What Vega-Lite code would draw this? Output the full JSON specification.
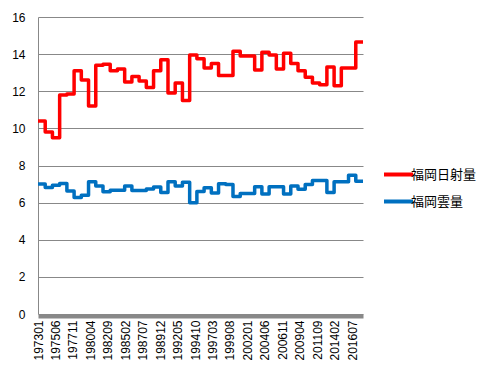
{
  "$schema": "https://vega.github.io/schema/vega-lite/v6.json",
  "width": 325,
  "height": 297,
  "autosize": "none",
  "padding": {"left": 38, "top": 17, "right": 134, "bottom": 62},
  "background": "white",
  "config": {"view": {"stroke": null}, "font": "Liberation Sans"},
  "data": {"values": [
    {"date": "1973-01-01", "series": "福岡日射量", "value": 10.4},
    {"date": "1974-01-01", "series": "福岡日射量", "value": 9.8},
    {"date": "1975-01-01", "series": "福岡日射量", "value": 9.5},
    {"date": "1976-01-01", "series": "福岡日射量", "value": 11.8},
    {"date": "1977-01-01", "series": "福岡日射量", "value": 11.85},
    {"date": "1978-01-01", "series": "福岡日射量", "value": 13.1},
    {"date": "1979-01-01", "series": "福岡日射量", "value": 12.6},
    {"date": "1980-01-01", "series": "福岡日射量", "value": 11.2},
    {"date": "1981-01-01", "series": "福岡日射量", "value": 13.4},
    {"date": "1982-01-01", "series": "福岡日射量", "value": 13.45},
    {"date": "1983-01-01", "series": "福岡日射量", "value": 13.1},
    {"date": "1984-01-01", "series": "福岡日射量", "value": 13.2},
    {"date": "1985-01-01", "series": "福岡日射量", "value": 12.5},
    {"date": "1986-01-01", "series": "福岡日射量", "value": 12.8},
    {"date": "1987-01-01", "series": "福岡日射量", "value": 12.55},
    {"date": "1988-01-01", "series": "福岡日射量", "value": 12.2},
    {"date": "1989-01-01", "series": "福岡日射量", "value": 13.1},
    {"date": "1990-01-01", "series": "福岡日射量", "value": 13.7},
    {"date": "1991-01-01", "series": "福岡日射量", "value": 11.9},
    {"date": "1992-01-01", "series": "福岡日射量", "value": 12.45},
    {"date": "1993-01-01", "series": "福岡日射量", "value": 11.5},
    {"date": "1994-01-01", "series": "福岡日射量", "value": 13.95},
    {"date": "1995-01-01", "series": "福岡日射量", "value": 13.75},
    {"date": "1996-01-01", "series": "福岡日射量", "value": 13.25},
    {"date": "1997-01-01", "series": "福岡日射量", "value": 13.5},
    {"date": "1998-01-01", "series": "福岡日射量", "value": 12.85},
    {"date": "1999-01-01", "series": "福岡日射量", "value": 12.85},
    {"date": "2000-01-01", "series": "福岡日射量", "value": 14.15},
    {"date": "2001-01-01", "series": "福岡日射量", "value": 13.9},
    {"date": "2002-01-01", "series": "福岡日射量", "value": 13.9},
    {"date": "2003-01-01", "series": "福岡日射量", "value": 13.15},
    {"date": "2004-01-01", "series": "福岡日射量", "value": 14.1},
    {"date": "2005-01-01", "series": "福岡日射量", "value": 13.95},
    {"date": "2006-01-01", "series": "福岡日射量", "value": 13.2},
    {"date": "2007-01-01", "series": "福岡日射量", "value": 14.05},
    {"date": "2008-01-01", "series": "福岡日射量", "value": 13.5},
    {"date": "2009-01-01", "series": "福岡日射量", "value": 13.1},
    {"date": "2010-01-01", "series": "福岡日射量", "value": 12.75},
    {"date": "2011-01-01", "series": "福岡日射量", "value": 12.45},
    {"date": "2012-01-01", "series": "福岡日射量", "value": 12.35},
    {"date": "2013-01-01", "series": "福岡日射量", "value": 13.3},
    {"date": "2014-01-01", "series": "福岡日射量", "value": 12.3},
    {"date": "2015-01-01", "series": "福岡日射量", "value": 13.25},
    {"date": "2016-01-01", "series": "福岡日射量", "value": 13.25},
    {"date": "2017-01-01", "series": "福岡日射量", "value": 14.65},
    {"date": "2018-01-01", "series": "福岡日射量", "value": 14.65},
    {"date": "1973-01-01", "series": "福岡雲量", "value": 7.0},
    {"date": "1974-01-01", "series": "福岡雲量", "value": 6.82},
    {"date": "1975-01-01", "series": "福岡雲量", "value": 6.94},
    {"date": "1976-01-01", "series": "福岡雲量", "value": 7.03},
    {"date": "1977-01-01", "series": "福岡雲量", "value": 6.63},
    {"date": "1978-01-01", "series": "福岡雲量", "value": 6.27},
    {"date": "1979-01-01", "series": "福岡雲量", "value": 6.4},
    {"date": "1980-01-01", "series": "福岡雲量", "value": 7.12},
    {"date": "1981-01-01", "series": "福岡雲量", "value": 6.9},
    {"date": "1982-01-01", "series": "福岡雲量", "value": 6.58},
    {"date": "1983-01-01", "series": "福岡雲量", "value": 6.67},
    {"date": "1984-01-01", "series": "福岡雲量", "value": 6.67},
    {"date": "1985-01-01", "series": "福岡雲量", "value": 6.9},
    {"date": "1986-01-01", "series": "福岡雲量", "value": 6.65},
    {"date": "1987-01-01", "series": "福岡雲量", "value": 6.65},
    {"date": "1988-01-01", "series": "福岡雲量", "value": 6.74},
    {"date": "1989-01-01", "series": "福岡雲量", "value": 6.84},
    {"date": "1990-01-01", "series": "福岡雲量", "value": 6.54},
    {"date": "1991-01-01", "series": "福岡雲量", "value": 7.12},
    {"date": "1992-01-01", "series": "福岡雲量", "value": 6.9},
    {"date": "1993-01-01", "series": "福岡雲量", "value": 7.1},
    {"date": "1994-01-01", "series": "福岡雲量", "value": 6.0},
    {"date": "1995-01-01", "series": "福岡雲量", "value": 6.6},
    {"date": "1996-01-01", "series": "福岡雲量", "value": 6.8},
    {"date": "1997-01-01", "series": "福岡雲量", "value": 6.52},
    {"date": "1998-01-01", "series": "福岡雲量", "value": 7.02},
    {"date": "1999-01-01", "series": "福岡雲量", "value": 6.98},
    {"date": "2000-01-01", "series": "福岡雲量", "value": 6.33},
    {"date": "2001-01-01", "series": "福岡雲量", "value": 6.49},
    {"date": "2002-01-01", "series": "福岡雲量", "value": 6.49},
    {"date": "2003-01-01", "series": "福岡雲量", "value": 6.86},
    {"date": "2004-01-01", "series": "福岡雲量", "value": 6.47},
    {"date": "2005-01-01", "series": "福岡雲量", "value": 6.86},
    {"date": "2006-01-01", "series": "福岡雲量", "value": 6.86},
    {"date": "2007-01-01", "series": "福岡雲量", "value": 6.47},
    {"date": "2008-01-01", "series": "福岡雲量", "value": 6.9},
    {"date": "2009-01-01", "series": "福岡雲量", "value": 6.72},
    {"date": "2010-01-01", "series": "福岡雲量", "value": 6.97},
    {"date": "2011-01-01", "series": "福岡雲量", "value": 7.19},
    {"date": "2012-01-01", "series": "福岡雲量", "value": 7.19},
    {"date": "2013-01-01", "series": "福岡雲量", "value": 6.54},
    {"date": "2014-01-01", "series": "福岡雲量", "value": 7.12},
    {"date": "2015-01-01", "series": "福岡雲量", "value": 7.12},
    {"date": "2016-01-01", "series": "福岡雲量", "value": 7.48},
    {"date": "2017-01-01", "series": "福岡雲量", "value": 7.15},
    {"date": "2018-01-01", "series": "福岡雲量", "value": 7.15}
  ]},
  "mark": {"type": "line", "interpolate": "step-after", "strokeWidth": 3.5, "strokeJoin": "round"},
  "encoding": {
    "x": {
      "field": "date", "type": "temporal",
      "scale": {"type": "utc", "nice": false, "domain": [
        {"year": 1973, "month": 1, "date": 1, "utc": true},
        {"year": 2018, "month": 1, "date": 1, "utc": true}
      ]},
      "axis": {
        "title": null,
        "values": [
          {"year": 1973, "month": 1, "date": 1, "utc": true},
          {"year": 1975, "month": 6, "date": 1, "utc": true},
          {"year": 1977, "month": 11, "date": 1, "utc": true},
          {"year": 1980, "month": 4, "date": 1, "utc": true},
          {"year": 1982, "month": 9, "date": 1, "utc": true},
          {"year": 1985, "month": 2, "date": 1, "utc": true},
          {"year": 1987, "month": 7, "date": 1, "utc": true},
          {"year": 1989, "month": 12, "date": 1, "utc": true},
          {"year": 1992, "month": 5, "date": 1, "utc": true},
          {"year": 1994, "month": 10, "date": 1, "utc": true},
          {"year": 1997, "month": 3, "date": 1, "utc": true},
          {"year": 1999, "month": 8, "date": 1, "utc": true},
          {"year": 2002, "month": 1, "date": 1, "utc": true},
          {"year": 2004, "month": 6, "date": 1, "utc": true},
          {"year": 2006, "month": 11, "date": 1, "utc": true},
          {"year": 2009, "month": 4, "date": 1, "utc": true},
          {"year": 2011, "month": 9, "date": 1, "utc": true},
          {"year": 2014, "month": 2, "date": 1, "utc": true},
          {"year": 2016, "month": 7, "date": 1, "utc": true}
        ],
        "format": "%Y%m",
        "labelAngle": -90,
        "labelAlign": "right",
        "labelBaseline": "middle",
        "labelFontSize": 12,
        "labelColor": "black",
        "labelPadding": 4,
        "labelOverlap": false,
        "labelFlush": false,
        "ticks": false,
        "grid": false,
        "domainColor": "#888888",
        "domainWidth": 4,
        "offset": 2
      }
    },
    "y": {
      "field": "value", "type": "quantitative",
      "scale": {"domain": [0, 16], "nice": false},
      "axis": {
        "title": null,
        "values": [0, 2, 4, 6, 8, 10, 12, 14, 16],
        "labelFontSize": 12,
        "labelColor": "black",
        "labelPadding": 13,
        "ticks": false,
        "grid": true,
        "gridColor": "#888888",
        "gridWidth": 1,
        "domainColor": "#888888"
      }
    },
    "color": {
      "field": "series", "type": "nominal",
      "scale": {"domain": ["福岡日射量", "福岡雲量"], "range": ["#FF0000", "#0070C0"]},
      "legend": {
        "title": null,
        "orient": "none",
        "legendX": 344,
        "legendY": 141,
        "symbolType": "stroke",
        "symbolSize": 841,
        "symbolStrokeWidth": 4,
        "labelFontSize": 13,
        "labelFont": "Noto Sans CJK JP",
        "labelColor": "black",
        "labelOffset": -4,
        "rowPadding": 2
      }
    }
  }
}
